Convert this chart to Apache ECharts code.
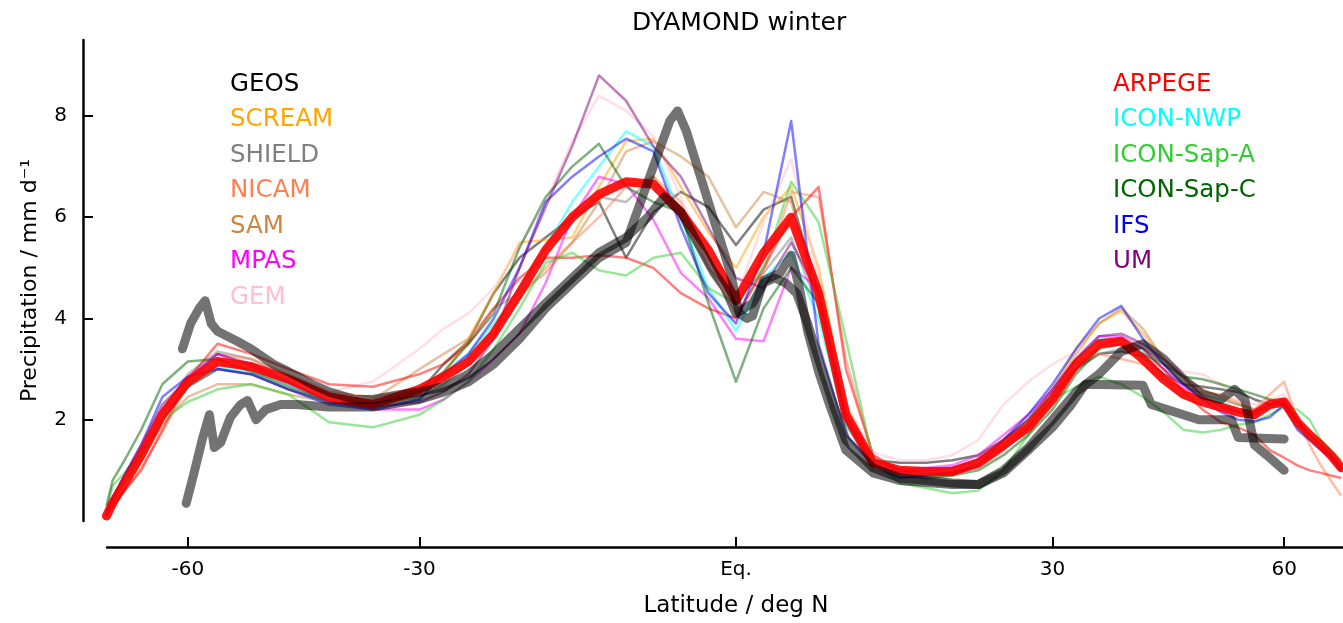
<!DOCTYPE html>
<html>
<head>
<meta charset="utf-8">
<title>DYAMOND winter</title>
<script src="https://cdn.jsdelivr.net/npm/echarts@6/dist/echarts.min.js"></script>
<style>
  html, body { margin: 0; padding: 0; background: #fff; overflow: hidden; }
  #chart { width: 1343px; height: 623px; }
</style>
</head>
<body>
<div id="chart"></div>
<script>
// latitude grid (deg N) shared by the model curves
var lats = [-84,-80,-75,-70,-65,-60,-55,-50,-45,-40,
            -35,-30,-27.5,-25,-22.5,-20,-17.5,-15,-12.5,-10,
            -7.5,-5,-2.5,0,2.5,5,7.5,10,12.5,15,
            17.5,20,22.5,25,27.5,30,32.5,35,37.5,40,
            42.5,45,47.5,50,52.5,55,57.5,60,62.5,65,
            67.5,70,73];

// zonal mean precipitation, mm/d
var geos = [0.15,0.4,0.8,1.3,2.0,2.65,3.0,2.9,2.6,2.35,
            2.3,2.55,3.1,3.55,4.5,5.2,5.6,6.0,6.3,5.2,
            6.1,6.5,6.2,5.45,6.15,6.4,4.5,2.1,1.2,1.15,
            1.15,1.2,1.3,1.6,2.0,2.5,3.0,3.3,3.35,3.25,
            2.9,2.7,2.65,2.6,2.55,2.4,2.3,2.3,1.95,1.7,
            1.5,1.3,1.05];
var scream = [0.1,0.35,0.8,1.3,2.1,2.7,3.1,3.0,2.7,2.4,
              2.25,2.5,2.9,3.6,4.5,5.5,5.55,5.6,6.6,7.5,
              7.55,6.6,5.7,5.0,6.0,6.6,5.0,2.3,1.2,1.0,
              0.95,0.95,1.1,1.5,2.0,2.6,3.4,3.9,4.15,3.7,
              3.2,2.8,2.5,2.3,2.15,2.1,2.25,2.4,1.95,1.7,
              1.45,1.3,1.05];
var shield = [0.1,0.4,0.85,1.35,2.15,2.9,3.35,3.2,2.85,2.45,
              2.3,2.45,2.7,3.1,3.8,4.6,5.4,6.0,6.4,6.3,
              6.8,6.0,5.0,4.4,4.9,5.6,4.2,1.9,1.05,0.9,
              0.9,0.95,1.1,1.45,1.85,2.4,3.0,3.3,3.4,3.3,
              3.0,2.7,2.5,2.4,2.3,2.2,2.25,2.3,1.9,1.65,
              1.45,1.25,1.0];
var nicam = [0.1,0.3,0.6,1.05,1.75,2.7,3.3,3.2,2.9,2.55,
             2.45,2.6,2.85,3.2,3.7,4.4,5.0,5.5,6.0,6.6,
             6.8,6.3,5.0,4.1,4.9,6.5,6.4,3.2,1.3,0.95,
             0.9,0.95,1.1,1.5,1.9,2.5,3.1,3.3,3.2,3.1,
             2.8,2.6,2.55,2.5,2.35,2.2,2.5,2.75,2.0,1.5,
             1.1,0.8,0.5];
var sam = [0.1,0.35,0.75,1.2,1.9,2.45,2.7,2.7,2.5,2.35,
           2.4,3.0,3.3,3.6,4.2,4.5,4.9,5.5,6.3,7.3,
           7.5,7.2,6.8,5.8,6.5,6.3,4.3,2.1,1.15,0.9,
           0.85,0.9,1.1,1.45,1.95,2.55,3.3,3.9,4.2,3.8,
           3.2,2.85,2.6,2.45,2.3,2.2,2.4,2.4,1.9,1.65,
           1.45,1.25,1.0];
var mpas = [0.1,0.45,0.9,1.4,2.2,2.85,3.3,3.05,2.7,2.35,
            2.2,2.2,2.4,2.75,3.2,3.7,4.7,6.0,6.8,6.65,
            5.95,4.9,4.4,3.6,3.55,5.0,4.6,2.1,1.2,1.0,
            1.05,1.1,1.3,1.7,2.1,2.6,3.2,3.65,3.65,3.4,
            3.0,2.65,2.4,2.3,2.15,2.1,2.3,2.4,2.0,1.7,
            1.5,1.3,1.05];
var gem = [0.15,0.4,0.85,1.35,2.15,2.8,3.2,3.1,2.85,2.55,
           2.75,3.4,3.8,4.1,4.6,5.4,6.3,7.5,8.4,8.1,
           7.6,6.4,5.1,4.4,5.9,7.15,4.8,2.3,1.35,1.2,
           1.2,1.3,1.6,2.3,2.75,3.1,3.35,3.55,3.6,3.5,
           3.2,2.95,2.9,2.7,2.4,2.3,2.4,2.5,2.0,1.7,
           1.5,1.3,1.1];
var arpege = [0.1,0.3,0.6,1.0,1.8,2.8,3.5,3.3,3.0,2.7,
              2.65,2.9,3.1,3.5,4.2,4.8,5.2,5.2,5.25,5.2,
              5.0,4.5,4.2,4.0,5.0,6.0,6.6,3.0,1.3,1.0,
              0.95,0.95,1.05,1.4,1.85,2.4,3.0,3.45,3.6,3.4,
              3.0,2.55,2.2,1.95,1.85,1.7,1.4,1.25,1.1,1.0,
              0.95,0.9,0.85];
var iconNwp = [0.1,0.35,0.8,1.3,2.05,2.7,3.05,2.95,2.7,2.35,
               2.2,2.4,2.9,3.3,3.9,4.5,5.4,6.3,7.0,7.7,
               7.4,6.0,4.6,3.75,4.8,5.3,4.0,1.9,1.15,0.95,
               0.95,1.0,1.1,1.45,1.9,2.5,3.2,3.6,3.6,3.35,
               2.8,2.45,2.4,2.35,2.2,2.15,2.25,2.3,1.9,1.65,
               1.45,1.25,1.0];
var iconSapA = [0.2,0.7,0.95,1.35,2.0,2.35,2.6,2.7,2.5,1.95,
                1.85,2.1,2.4,2.75,3.4,4.2,5.1,5.3,4.95,4.85,
                5.2,5.3,4.6,4.3,5.0,6.7,5.9,3.6,1.2,0.75,
                0.65,0.55,0.6,1.0,1.7,2.4,2.65,2.85,2.7,2.45,
                2.15,1.8,1.75,1.8,1.9,1.95,2.1,2.25,2.2,2.0,
                1.6,1.4,1.2];
var iconSapC = [0.3,0.8,1.2,1.8,2.7,3.15,3.2,2.95,2.65,2.35,
                2.3,2.6,2.95,3.5,4.1,5.4,6.4,7.0,7.45,6.6,
                6.3,6.1,4.3,2.75,4.2,5.0,4.3,2.0,1.1,0.9,
                0.85,0.9,1.0,1.3,1.7,2.2,2.9,3.4,3.5,3.3,
                3.1,2.85,2.8,2.7,2.6,2.5,2.4,2.3,2.0,1.7,
                1.5,1.3,1.05];
var ifs = [0.15,0.45,0.9,1.5,2.45,2.85,3.0,2.9,2.6,2.3,
           2.2,2.4,2.9,3.3,4.0,5.0,6.3,6.8,7.2,7.55,
           7.3,5.8,4.5,3.9,5.3,7.9,3.5,1.7,1.1,0.85,
           0.9,0.95,1.1,1.6,2.1,2.7,3.4,4.0,4.25,3.6,
           3.1,2.7,2.4,2.15,2.0,1.97,2.05,2.3,1.8,1.6,
           1.4,1.25,1.0];
var um = [0.1,0.45,0.9,1.5,2.3,2.8,3.3,3.1,2.75,2.35,
          2.25,2.35,2.55,2.9,3.6,5.0,6.2,7.4,8.8,8.3,
          7.4,6.8,5.8,4.8,4.6,5.5,4.5,2.0,1.1,0.95,
          1.0,1.05,1.2,1.6,2.0,2.6,3.2,3.65,3.7,3.5,
          3.2,2.85,2.45,2.25,2.15,2.15,2.3,2.35,1.95,1.7,
          1.5,1.3,1.05];
// thick red curve
var ensMean = [0.1,0.35,0.75,1.3,2.1,2.75,3.15,3.05,2.8,2.45,
               2.3,2.6,2.85,3.15,3.7,4.5,5.35,6.0,6.45,6.7,
               6.65,6.1,5.35,4.35,5.3,6.0,4.5,2.1,1.15,1.0,
               0.98,0.98,1.15,1.5,1.85,2.4,3.1,3.5,3.55,3.2,
               2.8,2.5,2.35,2.25,2.15,2.1,2.3,2.35,1.95,1.7,
               1.5,1.3,1.05];

// thick black curves (60S-60N only)
var obsALats = [-61,-59.5,-58,-57,-56,-55,-52,-50,-47,-45,-42,-40,-37,-35,-32,-30,-27.5,-25,-22.5,-20,
                -17.5,-15,-12.5,-10,-8,-6.5,-5,-3.5,-2,-1,0,1.5,2.5,3.5,4.5,5.5,6.5,7.5,9,10,
                12.5,15,20,22.5,25,27.5,30,32,33.5,40,41,46,47,51.5,52.5,60];
var obsA = [3.4,3.9,4.2,4.35,3.9,3.75,3.55,3.4,3.1,2.95,2.7,2.55,2.4,2.4,2.5,2.55,2.65,2.9,3.3,3.8,
            4.3,4.8,5.3,5.6,6.0,6.4,6.1,5.5,4.9,4.6,4.1,4.3,4.7,4.8,4.7,4.5,3.9,3.2,2.2,1.6,
            1.05,0.85,0.75,0.72,0.95,1.4,1.85,2.3,2.7,2.68,2.3,2.05,2.0,2.0,1.65,1.62];
var obsBLats = [-60.3,-59,-57.5,-56.3,-55.5,-54.5,-53,-51.5,-50.5,-49.3,-48,-46,-44,-40,-35,-30,-27.5,-25,-22.5,-20,
                -17.5,-15,-12.5,-10,-8.5,-7,-6,-5.3,-4.5,-3.5,-2.5,-1.5,-0.5,0.3,1,1.5,2.5,4,5,5.7,
                6.5,7.5,8.5,10,12.5,15,20,22.5,25,27.5,30,32.5,35,37.5,40,42.5,45,47.5,50,52,
                53.5,55,57,60];
var obsB = [0.35,0.9,1.6,2.1,1.45,1.55,2.05,2.3,2.38,2.0,2.2,2.3,2.3,2.25,2.25,2.4,2.55,2.75,3.1,3.6,
            4.2,4.7,5.2,5.5,6.4,7.3,7.9,8.1,7.7,7.0,6.3,5.6,4.9,4.1,4.0,4.05,4.75,4.9,5.25,4.65,
            3.75,2.95,2.3,1.4,0.95,0.8,0.72,0.72,1.0,1.45,2.0,2.55,2.9,3.35,3.5,3.2,2.8,2.5,2.4,2.6,
            2.4,1.5,1.3,1.0];

var tickLats = [-60, -30, 0, 30, 60];
var tickLabels = ['-60', '-30', 'Eq.', '30', '60'];
var yTicks = [2, 4, 6, 8];

var leftNames = ['GEOS', 'SCREAM', 'SHIELD', 'NICAM', 'SAM', 'MPAS', 'GEM'];
var rightNames = ['ARPEGE', 'ICON-NWP', 'ICON-Sap-A', 'ICON-Sap-C', 'IFS', 'UM'];
var models = {
	'GEOS': [geos, 'black'],
	'SCREAM': [scream, 'orange'],
	'SHIELD': [shield, 'grey'],
	'NICAM': [nicam, 'coral'],
	'SAM': [sam, 'peru'],
	'MPAS': [mpas, 'magenta'],
	'GEM': [gem, 'pink'],
	'ARPEGE': [arpege, 'red'],
	'ICON-NWP': [iconNwp, 'cyan'],
	'ICON-Sap-A': [iconSapA, 'limegreen'],
	'ICON-Sap-C': [iconSapC, 'darkgreen'],
	'IFS': [ifs, 'blue'],
	'UM': [um, 'purple']
};

var FONT = 'DejaVu Sans';

// x axis is sin(latitude)
function sinLat(lat) { return Math.sin(lat * Math.PI / 180); }
function toPairs(la, vals) {
	return la.map(function (l, i) { return [sinLat(l), vals[i]]; });
}

var series = [];
leftNames.concat(rightNames).forEach(function (name) {
	series.push({
		name: name,
		type: 'line',
		showSymbol: false,
		silent: true,
		color: models[name][1],
		lineStyle: { width: 2.5, opacity: 0.5, join: 'round' },
		data: toPairs(lats, models[name][0])
	});
});
series.push({
	name: 'mean',
	type: 'line',
	showSymbol: false,
	silent: true,
	color: 'red',
	lineStyle: { width: 9, opacity: 0.9, cap: 'round', join: 'round' },
	data: toPairs(lats, ensMean)
});
[[obsALats, obsA], [obsBLats, obsB]].forEach(function (o, k) {
	series.push({
		name: 'obs' + k,
		type: 'line',
		showSymbol: false,
		silent: true,
		color: 'black',
		lineStyle: { width: 9, opacity: 0.55, cap: 'round', join: 'round' },
		data: toPairs(o[0], o[1])
	});
});

function legendFor(names, left) {
	return {
		orient: 'vertical',
		left: left,
		top: 67,
		icon: 'none',
		itemWidth: 0,
		itemHeight: 24,
		itemGap: 10.5,
		selectedMode: false,
		textStyle: { fontSize: 24.5, fontFamily: FONT, lineHeight: 24 },
		data: names.map(function (n) {
			return { name: n, textStyle: { color: models[n][1] } };
		})
	};
}

var xTickVals = tickLats.map(sinLat);

var myChart = echarts.init(document.getElementById('chart'));
var option = {
	animation: false,
	backgroundColor: '#fff',
	title: {
		text: 'DYAMOND winter',
		left: 627,
		top: 6,
		textStyle: { fontSize: 25, fontWeight: 'normal', color: '#000', fontFamily: FONT }
	},
	legend: [legendFor(leftNames, 220), legendFor(rightNames, 1103)],
	grid: { left: 107, right: 0, top: 40, bottom: 100 },
	xAxis: {
		type: 'value',
		// picture is cut at about 74N
		min: -0.9937,
		max: 0.959,
		offset: 26,
		name: 'Latitude / deg N',
		nameLocation: 'middle',
		nameGap: 48,
		nameTextStyle: { fontSize: 23, color: '#000', fontFamily: FONT, padding: [0, 0, 0, 22] },
		axisLine: { onZero: false, lineStyle: { color: '#000', width: 2.5 } },
		axisTick: { inside: true, length: 10, customValues: xTickVals, lineStyle: { color: '#000', width: 2 } },
		axisLabel: {
			customValues: xTickVals,
			margin: 13,
			fontSize: 20,
			color: '#000',
			fontFamily: FONT,
			formatter: function (v) {
				for (var i = 0; i < xTickVals.length; i++) {
					if (Math.abs(v - xTickVals[i]) < 1e-6) return tickLabels[i];
				}
				return '';
			}
		},
		splitLine: { show: false }
	},
	yAxis: {
		type: 'value',
		min: 0,
		max: 9.5,
		offset: 24,
		name: 'Precipitation / mm d\u207B\u00B9',
		nameLocation: 'middle',
		nameGap: 42,
		nameTextStyle: { fontSize: 22, color: '#000', fontFamily: FONT },
		axisLine: { show: true, onZero: false, lineStyle: { color: '#000', width: 2.5 } },
		axisTick: { show: true, inside: true, length: 10, customValues: yTicks, lineStyle: { color: '#000', width: 2 } },
		axisLabel: { customValues: yTicks, margin: 16, fontSize: 20, color: '#000', fontFamily: FONT },
		splitLine: { show: false }
	},
	series: series
};
myChart.setOption(option);
</script>
</body>
</html>
